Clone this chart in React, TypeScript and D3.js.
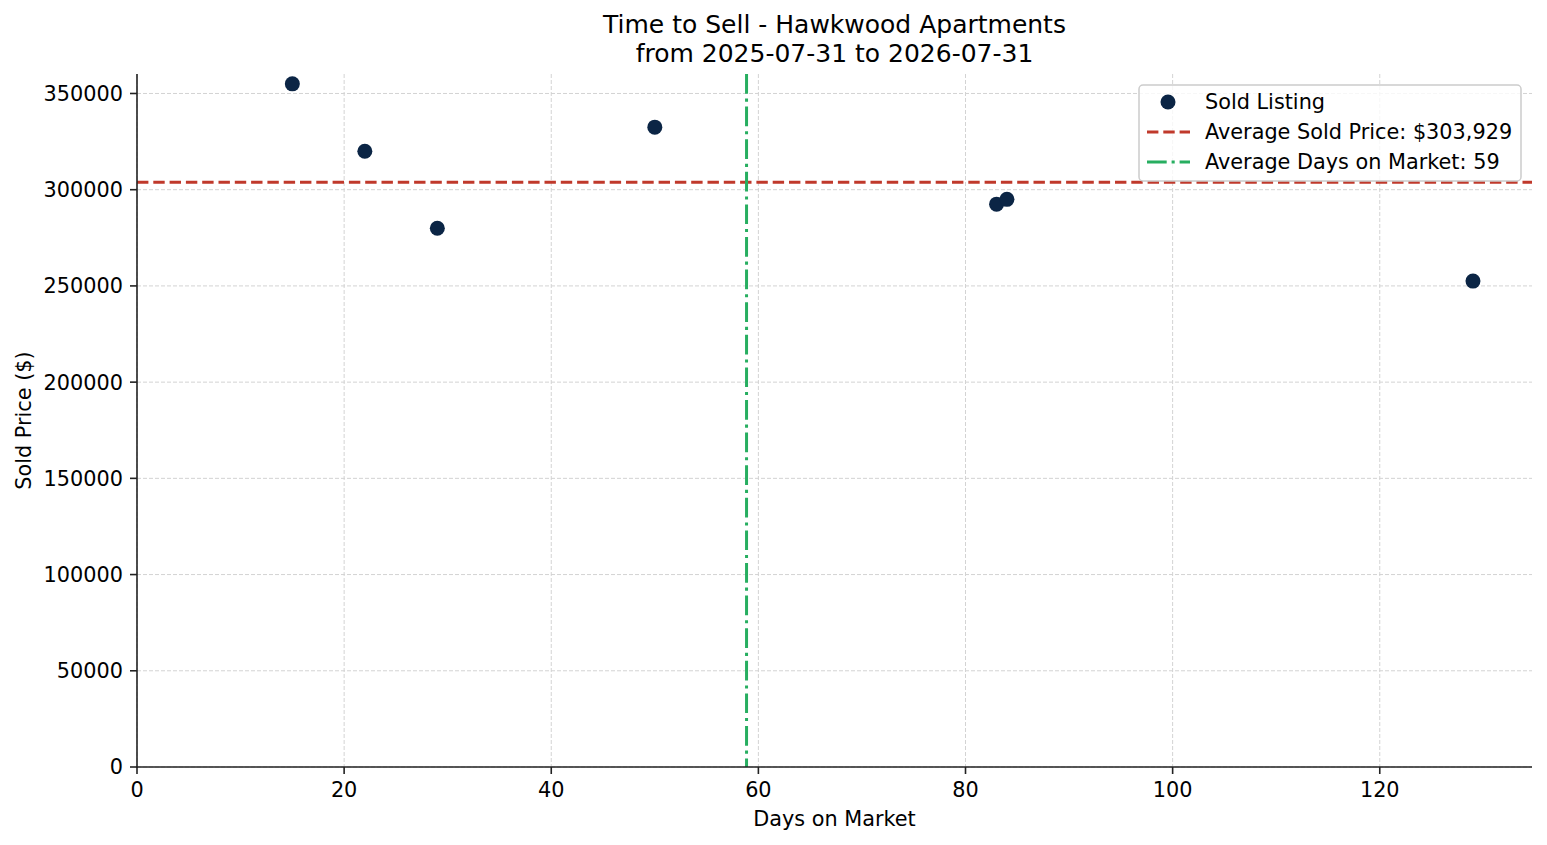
import React from "react";
import * as d3 from "d3";

const days: number[] = [15, 22, 29, 50, 83, 84, 129];
const prices: number[] = [355000, 320000, 280000, 332500, 292500, 295000, 252500];
const xTicks: number[] = [0, 20, 40, 60, 80, 100, 120];
const yTicks: number[] = [0, 50000, 100000, 150000, 200000, 250000, 300000, 350000];
const titleLines: string[] = ["Time to Sell - Hawkwood Apartments", "from 2025-07-31 to 2026-07-31"];

const W = 1547;
const H = 845;
const L = 137, R = 1532, T = 74, B = 767;
const FONT = "DejaVu Sans, Verdana, sans-serif";
const FS = 20.8;
const NAVY = "#0b2545";
const RED = "#c0392b";
const GREEN = "#27ae60";
const AX = "#222";

export default function App() {
  const xMin = d3.min(days)!, xMax = d3.max(days)!;
  const yMin = d3.min(prices)!, yMax = d3.max(prices)!;
  const x = d3.scaleLinear().domain([0, xMax + 0.05 * (xMax - xMin)]).range([L, R]);
  const y = d3.scaleLinear().domain([0, yMax + 0.05 * (yMax - yMin)]).range([B, T]);
  const avgPrice = d3.mean(prices)!;
  const avgDays = d3.mean(days)!;
  const priceLabel = "Average Sold Price: $" + d3.format(",.0f")(avgPrice);
  const daysLabel = "Average Days on Market: " + d3.format(".0f")(avgDays);

  const lg = { x: 1139, y: 85, w: 382, h: 96 };
  const rows = [102, 132, 162];

  return (
    <svg width={W} height={H} style={{ position: "absolute", left: 0, top: 0, background: "#fff" }} fontFamily={FONT}>
      <rect x={0} y={0} width={W} height={H} fill="#fff" />
      {/* grid */}
      {xTicks.map((t) => (
        <line key={"gx" + t} x1={x(t)} x2={x(t)} y1={T} y2={B} stroke="#d3d3d3" strokeWidth={1} strokeDasharray="4,2" />
      ))}
      {yTicks.map((t) => (
        <line key={"gy" + t} x1={L} x2={R} y1={y(t)} y2={y(t)} stroke="#d3d3d3" strokeWidth={1} strokeDasharray="4,2" />
      ))}
      {/* average lines */}
      <line x1={L} x2={R} y1={y(avgPrice)} y2={y(avgPrice)} stroke={RED} strokeWidth={3} strokeDasharray="11.4,4.9" />
      <line x1={x(avgDays)} x2={x(avgDays)} y1={T} y2={B} stroke={GREEN} strokeWidth={3} strokeDasharray="19.7,4.9,3.1,4.9" />
      {/* points */}
      {days.map((d, i) => (
        <circle key={"p" + i} cx={x(d)} cy={y(prices[i])} r={7.5} fill={NAVY} />
      ))}
      {/* spines */}
      <line x1={L} x2={L} y1={T} y2={B + 0.8} stroke={AX} strokeWidth={1.6} />
      <line x1={L - 0.8} x2={R} y1={B} y2={B} stroke={AX} strokeWidth={1.6} />
      {/* x ticks */}
      {xTicks.map((t) => (
        <g key={"xt" + t}>
          <line x1={x(t)} x2={x(t)} y1={B} y2={B + 7} stroke={AX} strokeWidth={1.6} />
          <text x={x(t)} y={B + 14} dy="0.76em" textAnchor="middle" fontSize={FS} fill="#000">{t}</text>
        </g>
      ))}
      {/* y ticks */}
      {yTicks.map((t) => (
        <g key={"yt" + t}>
          <line x1={L - 7} x2={L} y1={y(t)} y2={y(t)} stroke={AX} strokeWidth={1.6} />
          <text x={L - 14} y={y(t)} dy="0.36em" textAnchor="end" fontSize={FS} fill="#000">{t}</text>
        </g>
      ))}
      {/* axis labels */}
      <text x={(L + R) / 2} y={826} textAnchor="middle" fontSize={FS} fill="#000">Days on Market</text>
      <text transform={`translate(31,${(T + B) / 2}) rotate(-90)`} textAnchor="middle" fontSize={FS} fill="#000">Sold Price ($)</text>
      {/* title */}
      {titleLines.map((s, i) => (
        <text key={"t" + i} x={(L + R) / 2} y={33 + i * 29} textAnchor="middle" fontSize={25} fill="#000">{s}</text>
      ))}
      {/* legend */}
      <rect x={lg.x} y={lg.y} width={lg.w} height={lg.h} rx={4} fill="#fff" fillOpacity={0.8} stroke="#cccccc" strokeWidth={1.5} />
      <circle cx={1168} cy={rows[0]} r={7.5} fill={NAVY} />
      <line x1={1147} x2={1190} y1={rows[1]} y2={rows[1]} stroke={RED} strokeWidth={3} strokeDasharray="11.4,4.9" />
      <line x1={1147} x2={1190} y1={rows[2]} y2={rows[2]} stroke={GREEN} strokeWidth={3} strokeDasharray="19.7,4.9,3.1,4.9" />
      <text x={1205} y={rows[0]} dy="0.36em" fontSize={FS} fill="#000">Sold Listing</text>
      <text x={1205} y={rows[1]} dy="0.36em" fontSize={FS} fill="#000">{priceLabel}</text>
      <text x={1205} y={rows[2]} dy="0.36em" fontSize={FS} fill="#000">{daysLabel}</text>
    </svg>
  );
}
